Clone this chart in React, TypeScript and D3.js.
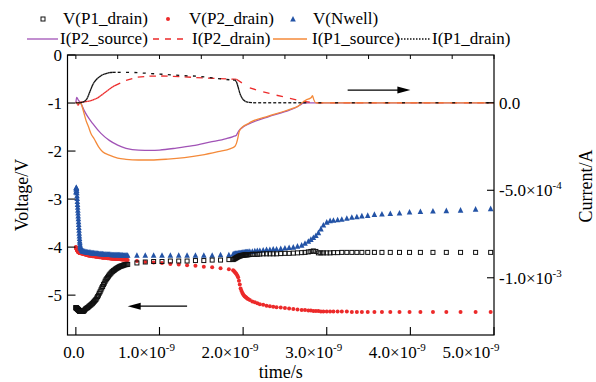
import React from "react";
import * as d3 from "d3";

// ---- voltages (left axis, V) on the simulator time steps (ns)
const timeV = [
  0, 0.002, 0.004, 0.006, 0.008, 0.01, 0.012, 0.014, 0.016, 0.018,
  0.02, 0.022, 0.024, 0.026, 0.028, 0.03, 0.032, 0.034, 0.036, 0.038,
  0.04, 0.042, 0.044, 0.046, 0.048, 0.05, 0.052, 0.054, 0.056,
  0.06, 0.065, 0.07, 0.075, 0.08, 0.085, 0.09, 0.095, 0.1,
  0.11, 0.12, 0.13, 0.14, 0.15, 0.16, 0.17, 0.18, 0.19, 0.2,
  0.21, 0.22, 0.23, 0.24, 0.25, 0.26, 0.27, 0.28, 0.29, 0.3,
  0.31, 0.32, 0.33, 0.34, 0.35, 0.36, 0.37, 0.38, 0.39, 0.4,
  0.41, 0.42, 0.43, 0.44, 0.45, 0.46, 0.47, 0.48, 0.49, 0.5,
  0.51, 0.52, 0.53, 0.54, 0.55, 0.56, 0.57, 0.58, 0.59, 0.6,
  0.61, 0.62,
  0.73, 0.83, 0.93, 1.03, 1.13, 1.23, 1.33, 1.43, 1.53, 1.63, 1.73, 1.83,
  1.88, 1.89, 1.9, 1.91, 1.92, 1.93, 1.94, 1.95, 1.96, 1.97,
  1.98, 1.99, 2.0, 2.01, 2.02, 2.03, 2.04, 2.05, 2.06,
  2.08, 2.11, 2.14, 2.17, 2.2, 2.24, 2.28, 2.32, 2.36, 2.4,
  2.45, 2.5, 2.55, 2.6, 2.65, 2.7, 2.74, 2.78, 2.81, 2.84, 2.87,
  2.9, 2.93, 2.96, 3.0, 3.04, 3.08, 3.13, 3.18, 3.24, 3.3,
  3.36, 3.42, 3.49, 3.57, 3.66, 3.76, 3.87, 3.99, 4.12, 4.27, 4.43, 4.6, 4.78, 4.96,
];
const vP1drain = [
  -5.26, -5.262, -5.265, -5.268, -5.27, -5.273, -5.276, -5.28, -5.283, -5.286,
  -5.29, -5.293, -5.296, -5.3, -5.303, -5.306, -5.31, -5.313, -5.316, -5.32,
  -5.322, -5.325, -5.328, -5.33, -5.333, -5.335, -5.337, -5.339, -5.34,
  -5.34, -5.34, -5.34, -5.34, -5.34, -5.335, -5.33, -5.33, -5.32,
  -5.3, -5.28, -5.27, -5.26, -5.245, -5.23, -5.215, -5.2, -5.185, -5.17,
  -5.15, -5.13, -5.11, -5.09, -5.06, -5.03, -5.0, -4.96, -4.93, -4.89,
  -4.85, -4.82, -4.78, -4.75, -4.71, -4.68, -4.655, -4.63, -4.605, -4.58,
  -4.56, -4.54, -4.52, -4.505, -4.49, -4.48, -4.465, -4.45, -4.44, -4.43,
  -4.42, -4.41, -4.4, -4.395, -4.39, -4.385, -4.375, -4.37, -4.365, -4.365,
  -4.36, -4.36,
  -4.33, -4.31, -4.3, -4.3, -4.29, -4.29, -4.29, -4.28, -4.28, -4.27, -4.27, -4.26,
  -4.26, -4.25, -4.24, -4.23, -4.22, -4.21, -4.2, -4.19, -4.185, -4.18,
  -4.175, -4.17, -4.168, -4.165, -4.162, -4.16, -4.16, -4.16, -4.158,
  -4.155, -4.15, -4.15, -4.15, -4.145, -4.14, -4.14, -4.14, -4.14, -4.14,
  -4.135, -4.13, -4.13, -4.125, -4.12, -4.115, -4.11, -4.1, -4.09, -4.08, -4.09,
  -4.12, -4.12, -4.12, -4.12, -4.12, -4.115, -4.115, -4.11, -4.11, -4.11,
  -4.11, -4.11, -4.11, -4.11, -4.11, -4.11, -4.11, -4.11, -4.11, -4.11, -4.11, -4.11, -4.11, -4.11,
];
const vP2drain = [
  -4.0, -4.01, -4.02, -4.03, -4.04, -4.045, -4.05, -4.06, -4.065, -4.07,
  -4.08, -4.085, -4.09, -4.095, -4.1, -4.1, -4.105, -4.105, -4.11, -4.11,
  -4.11, -4.115, -4.115, -4.12, -4.12, -4.12, -4.12, -4.12, -4.125,
  -4.13, -4.13, -4.13, -4.13, -4.14, -4.14, -4.14, -4.14, -4.15,
  -4.155, -4.16, -4.165, -4.17, -4.175, -4.18, -4.18, -4.18, -4.185, -4.19,
  -4.19, -4.19, -4.195, -4.2, -4.2, -4.2, -4.205, -4.21, -4.21, -4.21,
  -4.215, -4.22, -4.22, -4.22, -4.22, -4.22, -4.225, -4.23, -4.23, -4.23,
  -4.235, -4.235, -4.24, -4.24, -4.24, -4.24, -4.245, -4.245, -4.25, -4.25,
  -4.25, -4.25, -4.255, -4.255, -4.26, -4.26, -4.26, -4.26, -4.265, -4.265,
  -4.27, -4.27,
  -4.29, -4.31, -4.32, -4.33, -4.35, -4.36, -4.38, -4.39, -4.41, -4.42, -4.44, -4.46,
  -4.48, -4.5, -4.52, -4.54, -4.56, -4.59, -4.63, -4.7, -4.78, -4.86,
  -4.91, -4.95, -4.98, -5.01, -5.03, -5.04, -5.055, -5.07, -5.08,
  -5.1, -5.13, -5.15, -5.17, -5.19, -5.2, -5.22, -5.23, -5.24, -5.25,
  -5.26, -5.27, -5.28, -5.29, -5.3, -5.31, -5.31, -5.32, -5.32, -5.33, -5.33,
  -5.33, -5.34, -5.34, -5.34, -5.34, -5.34, -5.34, -5.34, -5.34, -5.35,
  -5.35, -5.35, -5.35, -5.35, -5.35, -5.35, -5.35, -5.35, -5.35, -5.35, -5.35, -5.35, -5.35, -5.35,
];
const vNwell = [
  -2.85, -2.79, -2.76, -2.76, -2.78, -2.82, -2.87, -2.93, -2.99, -3.05,
  -3.11, -3.17, -3.23, -3.29, -3.35, -3.41, -3.47, -3.53, -3.59, -3.65,
  -3.71, -3.77, -3.82, -3.87, -3.91, -3.95, -3.98, -4.0, -4.02,
  -4.03, -4.04, -4.06, -4.07, -4.08, -4.08, -4.09, -4.09, -4.09,
  -4.095, -4.1, -4.1, -4.105, -4.11, -4.11, -4.11, -4.115, -4.12, -4.12,
  -4.12, -4.125, -4.13, -4.13, -4.13, -4.13, -4.135, -4.14, -4.14, -4.14,
  -4.14, -4.14, -4.145, -4.15, -4.15, -4.15, -4.15, -4.15, -4.15, -4.15,
  -4.155, -4.155, -4.16, -4.16, -4.16, -4.16, -4.16, -4.16, -4.16, -4.16,
  -4.16, -4.16, -4.165, -4.165, -4.165, -4.165, -4.17, -4.17, -4.17, -4.17,
  -4.17, -4.17,
  -4.17, -4.17, -4.17, -4.17, -4.17, -4.17, -4.17, -4.17, -4.17, -4.17, -4.16, -4.16,
  -4.145, -4.14, -4.135, -4.13, -4.13, -4.13, -4.125, -4.12, -4.12, -4.12,
  -4.115, -4.11, -4.11, -4.11, -4.105, -4.1, -4.1, -4.1, -4.095,
  -4.09, -4.09, -4.08, -4.07, -4.07, -4.06, -4.05, -4.05, -4.04, -4.04,
  -4.03, -4.02, -4.01, -4.0, -3.98, -3.96, -3.92, -3.88, -3.84, -3.8, -3.76,
  -3.7, -3.62, -3.54, -3.48, -3.45, -3.44, -3.43, -3.42, -3.4, -3.38,
  -3.37, -3.35, -3.34, -3.32, -3.31, -3.3, -3.29, -3.27, -3.26, -3.25, -3.24, -3.23, -3.21, -3.2,
];

// ---- currents (right axis), values in units of 1e-4 A, time in ns
const tP2source = [
  0, 0.01, 0.03, 0.06, 0.1, 0.14, 0.2, 0.3, 0.4, 0.5, 0.6, 0.75, 0.9, 1.0,
  1.2, 1.4, 1.6, 1.8, 1.88, 1.92, 1.94, 1.96, 1.99, 2.03, 2.1, 2.3, 2.5,
  2.62, 2.68, 2.72, 2.75, 3.0, 3.5, 4.0, 4.5, 5.0,
];
const iP2source = [
  0, 0.31, 0.15, -0.03, -0.45, -0.78, -1.18, -1.75, -2.15, -2.42, -2.6, -2.71, -2.72, -2.7,
  -2.59, -2.45, -2.25, -2.05, -1.93, -1.85, -1.67, -1.53, -1.42, -1.3, -1.14, -0.8, -0.51,
  -0.3, -0.13, -0.02, 0, 0, 0, 0, 0, 0,
];
const tP2drain = [
  0, 0.01, 0.02, 0.03, 0.04, 0.05, 0.06, 0.08, 0.1, 0.12, 0.14, 0.16, 0.18, 0.2,
  0.22, 0.24, 0.26, 0.28, 0.3, 0.32, 0.34, 0.36, 0.38, 0.4, 0.42, 0.44, 0.46,
  0.6, 0.74, 0.88, 1.02, 1.16, 1.3, 1.44, 1.58, 1.72, 1.86, 1.9, 1.92,
  2.08, 2.24, 2.4, 2.56, 2.72, 2.88, 3.04, 3.2, 3.36, 3.52, 3.68, 3.84, 4.0,
  4.16, 4.32, 4.48, 4.64, 4.8, 4.96,
];
const iP2drain = [
  0, 0.05, -0.1, -0.15, 0, 0.03, 0.03, 0.04, 0.05, 0.06, 0.08, 0.1, 0.12, 0.15,
  0.19, 0.23, 0.28, 0.34, 0.41, 0.48, 0.56, 0.63, 0.7, 0.77, 0.84, 0.91, 0.97,
  1.28, 1.46, 1.52, 1.53, 1.51, 1.48, 1.44, 1.41, 1.38, 1.35, 1.35, 1.34,
  0.85, 0.62, 0.43, 0.25, 0.08, 0, 0, 0, 0, 0, 0, 0, 0,
  0, 0, 0, 0, 0, 0,
];
const tP1source = [
  0, 0.03, 0.06, 0.08, 0.1, 0.12, 0.15, 0.18, 0.22, 0.27, 0.32, 0.4, 0.5, 0.6,
  0.75, 0.9, 1.1, 1.3, 1.5, 1.7, 1.85, 1.9, 1.92, 1.94, 1.95, 1.97, 2.0, 2.05,
  2.1, 2.3, 2.5, 2.6, 2.66, 2.71, 2.76, 2.8, 2.82, 2.83, 2.845, 2.87, 2.9,
  3.2, 3.6, 4.0, 4.5, 5.0,
];
const iP1source = [
  0, 0, -0.03, -0.3, -0.65, -0.99, -1.36, -1.75, -2.07, -2.5, -2.8, -2.99, -3.16, -3.23,
  -3.27, -3.27, -3.22, -3.13, -2.99, -2.79, -2.62, -2.5, -2.32, -1.95, -1.7, -1.5, -1.35, -1.22,
  -1.08, -0.76, -0.47, -0.3, -0.19, 0.01, 0.18, 0.25, 0.33, 0.41, 0.18, 0, 0,
  0, 0, 0, 0, 0,
];
const tP1drain = [
  0, 0.02, 0.04, 0.06, 0.08, 0.1, 0.12, 0.13, 0.14, 0.15, 0.16, 0.17, 0.18, 0.19,
  0.2, 0.21, 0.22, 0.24, 0.26, 0.28, 0.3, 0.32, 0.34, 0.36, 0.38, 0.4, 0.42, 0.44,
  0.5, 0.6, 0.7, 0.8, 0.9, 1.0, 1.1, 1.2, 1.3, 1.4, 1.5, 1.6, 1.7, 1.8, 1.88,
  1.9, 1.92, 1.93, 1.94, 1.95, 1.96, 1.97, 1.98, 1.99, 2.0, 2.03, 2.07, 2.12,
  2.18, 2.24, 2.3, 2.36, 2.42, 2.48, 2.54, 2.6, 2.66, 2.72, 2.9, 3.1, 3.3, 3.5,
  3.7, 3.9, 4.1, 4.3, 4.5, 4.7, 4.9, 5.0,
];
const iP1drain = [
  0, 0, 0, 0.01, 0.04, 0.07, 0.15, 0.21, 0.3, 0.41, 0.54, 0.66, 0.78, 0.9,
  1.01, 1.1, 1.18, 1.3, 1.4, 1.47, 1.55, 1.6, 1.64, 1.67, 1.7, 1.72, 1.73, 1.74,
  1.74, 1.74, 1.73, 1.7, 1.67, 1.64, 1.61, 1.58, 1.55, 1.53, 1.5, 1.44, 1.38, 1.33, 1.3,
  1.3, 1.21, 1.06, 0.9, 0.72, 0.55, 0.43, 0.33, 0.25, 0.18, 0.07, 0.02, 0,
  0, 0, 0, 0, 0, 0, 0, 0, 0, 0, 0, 0, 0, 0,
  0, 0, 0, 0, 0, 0, 0, 0,
];

// ---- axes / legend text
const xTicks = [0, 1, 2, 3, 4, 5];
const xMinor = [0.5, 1.5, 2.5, 3.5, 4.5];
const vTicks = [0, -1, -2, -3, -4, -5];
const iTicks = [0, -5e-4, -1e-3];
const voltageNames = ["V(P1_drain)", "V(P2_drain)", "V(Nwell)"];
const currentNames = ["I(P2_source)", "I(P2_drain)", "I(P1_source)", "I(P1_drain)"];
// arrows: [t start, t end, voltage level]
const arrowNotes = [
  [3.25, 4.0, -0.73],
  [1.33, 0.62, -5.23],
];

const W = 596;
const H = 382;
const L = 67.5, R = 494, T = 55, B = 335;
const FONT = "Liberation Serif, DejaVu Serif, serif";

const C_BLACK = "#111";
const C_RED = "#ec2a2a";
const C_BLUE = "#2353a6";
const C_PURPLE = "#a153b6";
const C_ORANGE = "#f48a3a";

export default function App() {
  const x = d3.scaleLinear().domain([-0.1, 5.0]).range([L, R]);
  const yV = d3.scaleLinear().domain([-5.83, 0]).range([B, T]);
  const yI = d3.scaleLinear().domain([-1.327e-3, 2.73e-4]).range([B, T]);

  const curLine = (ts: number[], vs: number[]) =>
    d3
      .line<number>()
      .x((_, i) => x(ts[i]))
      .y((d) => yI(d * 1e-4))
      .curve(d3.curveMonotoneX)(vs) as string;

  // dash pattern restarts on every segment, so dense steps look solid
  const segs = (ts: number[], vs: number[]) =>
    ts.slice(1).map(
      (t, i) =>
        `M${x(ts[i])},${yI(vs[i] * 1e-4)}L${x(t)},${yI(vs[i + 1] * 1e-4)}`
    );

  const tri = (cx: number, cy: number, s = 5.6) =>
    `M${cx},${cy - s * 0.55}L${cx + s / 2},${cy + s * 0.45}L${cx - s / 2},${cy + s * 0.45}Z`;

  const sup = (m: string, e: number) => (
    <>
      {m}×10
      <tspan dy={-7} fontSize={11}>
        {e}
      </tspan>
    </>
  );

  const fmtI = (v: number) => {
    if (v === 0) return "0.0";
    const e = Math.floor(Math.log10(Math.abs(v)) + 1e-9);
    return sup((v / Math.pow(10, e)).toFixed(1), e);
  };

  return (
    <svg
      width={W}
      height={H}
      fontFamily={FONT}
      style={{ position: "absolute", left: 0, top: 0, background: "#fff" }}
    >
      {/* voltage markers */}
      <g>
        {timeV.map((t, i) => (
          <circle key={"r" + i} cx={x(t)} cy={yV(vP2drain[i])} r={2} fill={C_RED} />
        ))}
        {timeV.map((t, i) => (
          <path key={"b" + i} d={tri(x(t), yV(vNwell[i]))} fill={C_BLUE} />
        ))}
        {timeV.map((t, i) => (
          <rect
            key={"k" + i}
            x={x(t) - 2}
            y={yV(vP1drain[i]) - 2}
            width={4}
            height={4}
            fill="none"
            stroke={C_BLACK}
            strokeWidth={1}
          />
        ))}
      </g>

      {/* currents */}
      <path d={curLine(tP2source, iP2source)} fill="none" stroke={C_PURPLE} strokeWidth={1.3} />
      <g stroke={C_RED} strokeWidth={1.3} fill="none">
        {segs(tP2drain, iP2drain).map((d, i) => (
          <path key={i} d={d} strokeDasharray="6.5,100" />
        ))}
      </g>
      <path d={curLine(tP1source, iP1source)} fill="none" stroke={C_ORANGE} strokeWidth={1.3} />
      <g stroke={C_BLACK} strokeWidth={1.3} fill="none">
        {segs(tP1drain, iP1drain).map((d, i) => (
          <path key={i} d={d} strokeDasharray="3,100" />
        ))}
      </g>

      {/* arrows */}
      {arrowNotes.map(([t0, t1, v], i) => {
        const x0 = x(t0), x1 = x(t1), yy = yV(v);
        const dir = Math.sign(x1 - x0);
        return (
          <g key={i}>
            <line x1={x0} x2={x1 - dir * 10} y1={yy} y2={yy} stroke="#000" strokeWidth={1.3} />
            <path
              d={`M${x1},${yy}L${x1 - dir * 13},${yy - 3.5}L${x1 - dir * 13},${yy + 3.5}Z`}
              fill="#000"
            />
          </g>
        );
      })}

      {/* frame */}
      <rect x={L} y={T} width={R - L} height={B - T} fill="none" stroke="#000" strokeWidth={1.2} />

      {/* bottom / top axis */}
      {xTicks.map((t) => (
        <line key={"xt" + t} x1={x(t)} x2={x(t)} y1={B} y2={B - 8} stroke="#000" strokeWidth={1.1} />
      ))}
      {xTicks.concat(xMinor).map((t) => (
        <line key={"xtt" + t} x1={x(t)} x2={x(t)} y1={T} y2={T + 4} stroke="#000" strokeWidth={1} />
      ))}
      {xTicks.map((t) => {
        if (t === 0)
          return (
            <text key={"xl" + t} x={x(t) - 2} y={358} textAnchor="middle" fontSize={17}>
              0.0
            </text>
          );
        const cx = Math.min(x(t) - 13, 501 - 30);
        return (
          <text key={"xl" + t} x={cx} y={358} textAnchor="middle" fontSize={17}>
            {sup(t.toFixed(1), -9)}
          </text>
        );
      })}
      <text x={(L + R) / 2} y={378} textAnchor="middle" fontSize={18}>
        time/s
      </text>

      {/* left axis */}
      {vTicks.map((v) => (
        <g key={"v" + v}>
          <line x1={L} x2={L + 8} y1={yV(v)} y2={yV(v)} stroke="#000" strokeWidth={1.1} />
          <text x={62} y={yV(v) + 6} textAnchor="end" fontSize={17}>
            {v === 0 ? "0" : `-${Math.abs(v)}`}
          </text>
        </g>
      ))}
      <text
        transform={`translate(22,${(T + B) / 2}) rotate(-90)`}
        textAnchor="middle"
        dominantBaseline="central"
        fontSize={18}
      >
        Voltage/V
      </text>

      {/* right axis */}
      {iTicks.map((v) => (
        <g key={"i" + v}>
          <line x1={R} x2={R - 7} y1={yI(v)} y2={yI(v)} stroke="#000" strokeWidth={1.1} />
          <text x={499} y={yI(v) + 6} textAnchor="start" fontSize={17}>
            {fmtI(v)}
          </text>
        </g>
      ))}
      <text
        transform={`translate(586,186) rotate(-90)`}
        textAnchor="middle"
        dominantBaseline="central"
        fontSize={18}
      >
        Current/A
      </text>

      {/* legend */}
      <g fontSize={17}>
        <rect x={41} y={17} width={4} height={4} fill="none" stroke={C_BLACK} strokeWidth={1} />
        <circle cx={168} cy={19} r={2} fill={C_RED} />
        <path d={tri(293, 19)} fill={C_BLUE} />
        {voltageNames.map((n, i) => (
          <text key={n} x={[63, 189, 313][i]} y={24}>
            {n}
          </text>
        ))}
        <line x1={27} x2={58} y1={39} y2={39} stroke={C_PURPLE} strokeWidth={1.3} />
        <line x1={153} x2={183} y1={39} y2={39} stroke={C_RED} strokeWidth={1.3} strokeDasharray="6,6" />
        <line x1={273} x2={307} y1={39} y2={39} stroke={C_ORANGE} strokeWidth={1.3} />
        <line x1={398} x2={430} y1={39} y2={39} stroke={C_BLACK} strokeWidth={1.3} strokeDasharray="1.5,1.5" />
        {currentNames.map((n, i) => (
          <text key={n} x={[60, 192, 312, 432][i]} y={44}>
            {n}
          </text>
        ))}
      </g>
    </svg>
  );
}
